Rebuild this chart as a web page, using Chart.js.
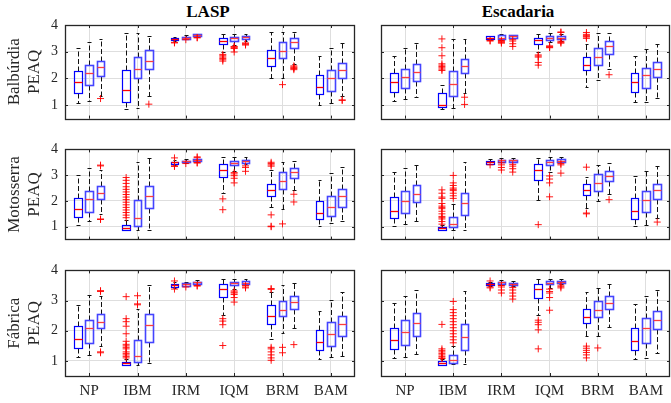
<!DOCTYPE html>
<html>
<head>
<meta charset="utf-8">
<script src="https://cdn.jsdelivr.net/npm/chart.js@4.4.1/dist/chart.umd.min.js"></script>
<style>
  html, body { margin: 0; padding: 0; background: #fff; overflow: hidden; }
  #fig { position: relative; width: 671px; height: 403px; overflow: hidden; }
  #fig canvas { position: absolute; }
  .coltitle { position: absolute; top: 2px; font: bold 17px 'Liberation Serif', serif; color: #000; transform: translateX(-50%); }
</style>
</head>
<body>
<div id="fig">
  <div class="coltitle" style="left:208px">LASP</div>
  <div class="coltitle" style="left:518px">Escadaria</div>
</div>
<script>
// categories on the x axis, rows (noise types) and columns (databases)
var categories = ['NP', 'IBM', 'IRM', 'IQM', 'BRM', 'BAM'];
var rowNames = ['Balbúrdia', 'Motosserra', 'Fábrica'];
var colNames = ['LASP', 'Escadaria'];
var yTicks = [1, 2, 3, 4];

// box stats per panel: [lower whisker, q1, median, q3, upper whisker], 3 boxes per category
var balburdiaLasp = [
  [1.08,1.47,1.87,2.28,3.15], [1.16,1.75,2.22,2.49,3.35], [1.35,2.11,2.42,2.67,3.46],
  [0.85,1.13,1.58,2.30,3.70], [0.90,2.01,2.35,2.80,3.71], [1.35,2.36,2.67,3.07,3.60],
  [3.40,3.45,3.48,3.51,3.55], [3.47,3.48,3.53,3.56,3.62], [3.55,3.57,3.62,3.65,3.67],
  [3.00,3.28,3.42,3.53,3.67], [3.26,3.42,3.51,3.56,3.67], [3.40,3.48,3.54,3.59,3.67],
  [2.03,2.45,2.75,3.08,3.72], [2.00,2.77,3.02,3.37,3.73], [2.55,3.14,3.36,3.52,3.72],
  [1.00,1.41,1.68,2.12,2.85], [1.08,1.53,2.03,2.32,3.14], [1.36,2.03,2.30,2.58,3.34]
];
var balburdiaLaspOut = [
  [], [], [1.25],
  [], [], [1.04],
  [3.33,3.35], [3.45], [3.52,3.53],
  [2.9,2.85,2.8,2.75,2.7,2.65], [3.2,3.18,3.15,3.12,2.99], [3.33,3.3,3.28,3.25],
  [], [1.77], [2.47,2.43,2.4,2.37,2.33],
  [], [], [1.2,1.18]
];
var balburdiaEsc = [
  [1.14,1.50,1.85,2.20,2.85], [1.22,1.65,2.05,2.36,3.13], [1.30,1.91,2.26,2.54,3.32],
  [0.86,0.92,1.01,1.46,1.75], [0.88,1.35,1.79,2.28,3.46], [1.47,2.21,2.47,2.74,3.48],
  [3.44,3.46,3.51,3.57,3.60], [3.45,3.47,3.52,3.61,3.65], [3.50,3.53,3.58,3.61,3.64],
  [2.99,3.28,3.45,3.51,3.67], [3.37,3.45,3.51,3.58,3.70], [3.42,3.48,3.53,3.59,3.68],
  [1.68,2.30,2.51,2.79,3.30], [1.96,2.51,2.80,3.13,3.70], [2.34,2.91,3.20,3.42,3.70],
  [1.11,1.49,1.88,2.20,2.85], [1.12,1.64,2.12,2.40,3.12], [1.27,2.04,2.35,2.63,3.29]
];
var balburdiaEscOut = [
  [], [], [],
  [3.48,3.15,2.85,2.55,2.5,2.45,2.4,2.35,2.3], [], [1.3,1.03],
  [3.42,3.40], [3.42,3.38,3.35,3.32], [3.45,3.4,3.3,3.2],
  [2.88,2.84,2.8,2.6,2.5], [3.22,3.19,3.17,3.15], [3.74,3.72,3.39,3.35,3.32],
  [3.5,3.55,3.58,3.6,3.65,3.72], [], [2.14],
  [], [], []
];
var motosserraLasp = [
  [1.06,1.38,1.68,2.12,3.01], [1.22,1.59,2.09,2.37,3.26], [1.50,2.08,2.32,2.58,3.20],
  [0.86,0.88,0.94,1.08,1.25], [0.88,1.04,1.32,2.05,3.51], [0.88,1.71,2.19,2.57,3.65],
  [3.38,3.44,3.50,3.52,3.60], [3.48,3.50,3.55,3.56,3.62], [3.52,3.55,3.60,3.62,3.64],
  [2.32,2.92,3.22,3.45,3.69], [3.18,3.38,3.48,3.56,3.70], [3.42,3.48,3.55,3.59,3.70],
  [1.78,2.19,2.42,2.64,3.20], [1.70,2.45,2.77,3.12,3.53], [2.43,2.89,3.13,3.29,3.56],
  [1.03,1.31,1.55,1.99,2.83], [1.15,1.41,1.77,2.19,3.09], [1.21,1.75,2.19,2.46,3.32]
];
var motosserraLaspOut = [
  [], [], [3.39,3.36,1.3,1.28],
  [2.91,2.8,2.68,2.55,2.45,2.35,2.25,2.15,2.05,1.95,1.85,1.75,1.65,1.55,1.45,1.35], [], [],
  [3.67,3.36,3.34], [3.45], [3.68,3.71,3.49,3.47],
  [2.08,1.66], [3.1,3.05,2.98,2.88,2.7], [3.36,3.3,3.15],
  [3.5,3.45,3.4,3.35,1.46,1.02,1.0], [1.11], [2.26,1.96],
  [], [], []
];
var motosserraEsc = [
  [1.02,1.34,1.62,2.14,3.11], [1.10,1.52,1.99,2.37,3.26], [1.21,1.97,2.26,2.61,3.40],
  [0.86,0.88,0.95,1.00,1.05], [0.88,0.97,1.10,1.39,1.89], [0.88,1.46,1.92,2.31,3.50],
  [3.43,3.45,3.52,3.56,3.63], [3.50,3.53,3.57,3.60,3.67], [3.50,3.53,3.57,3.59,3.67],
  [2.05,2.81,3.19,3.42,3.65], [3.13,3.38,3.51,3.58,3.72], [3.50,3.53,3.56,3.61,3.70],
  [1.72,2.23,2.41,2.66,2.91], [1.99,2.39,2.69,3.04,3.38], [2.26,2.76,2.97,3.17,3.48],
  [1.02,1.31,1.62,2.12,2.95], [1.08,1.58,2.05,2.39,3.16], [1.35,2.07,2.41,2.66,3.37]
];
var motosserraEscOut = [
  [], [], [],
  [2.43,2.3,2.15,2.1,1.9,1.8,1.75,1.7,1.6,1.5,1.4,1.35,1.3,1.2,1.1], [2.99,2.7,2.6,2.5,2.45,2.4,2.3,2.2,2.1], [],
  [3.40], [3.48,3.4,3.3,3.2], [3.42,3.35,3.25,3.12],
  [1.08], [2.97,2.85,2.7,2.16], [3.45,3.4,3.08],
  [3.31,1.53,1.5], [], [2.05],
  [], [], [1.18]
];
var fabricaLasp = [
  [1.13,1.44,1.72,2.16,2.86], [1.19,1.59,2.08,2.37,3.17], [1.49,2.08,2.30,2.57,3.15],
  [0.86,0.87,0.93,0.98,1.05], [0.87,0.98,1.17,1.70,2.73], [0.92,1.62,2.19,2.55,3.52],
  [3.42,3.46,3.50,3.55,3.60], [3.47,3.49,3.55,3.57,3.63], [3.52,3.54,3.60,3.63,3.68],
  [2.51,3.12,3.38,3.55,3.72], [3.40,3.51,3.57,3.63,3.73], [3.55,3.55,3.59,3.64,3.72],
  [1.72,2.24,2.49,2.84,3.27], [1.92,2.48,2.68,2.98,3.51], [2.08,2.71,2.95,3.16,3.57],
  [1.05,1.36,1.62,2.03,2.65], [1.14,1.49,1.89,2.30,3.02], [1.16,1.83,2.21,2.50,3.30]
];
var fabricaLaspOut = [
  [], [], [3.33,3.3,1.3,1.27],
  [3.13,2.4,2.3,2.15,1.9,1.65,1.55,1.5,1.45,1.4,1.3,1.25,1.2,1.15,1.1], [3.16,2.89,2.86], [],
  [3.65,3.38], [3.45], [3.50,3.48],
  [2.4,2.32,2.2,1.51], [3.32,3.28,3.25,3.2,3.1,2.95], [3.5,3.45,3.42],
  [3.4,3.37,1.45,1.4,1.3,1.2,1.1,1.02], [1.45,1.27], [1.54],
  [], [], []
];
var fabricaEsc = [
  [1.09,1.38,1.70,2.08,2.92], [1.12,1.52,1.96,2.34,3.15], [1.23,1.84,2.26,2.60,3.36],
  [0.86,0.88,0.93,1.00,1.05], [0.89,0.94,1.02,1.19,1.50], [0.89,1.37,1.78,2.24,3.31],
  [3.47,3.50,3.54,3.58,3.62], [3.53,3.56,3.60,3.62,3.67], [3.49,3.52,3.56,3.59,3.65],
  [2.51,3.10,3.38,3.55,3.72], [3.43,3.54,3.59,3.64,3.73], [3.55,3.57,3.62,3.66,3.73],
  [1.81,2.25,2.44,2.73,3.30], [1.81,2.46,2.68,2.97,3.43], [2.11,2.71,2.92,3.16,3.54],
  [1.06,1.37,1.67,2.08,2.88], [1.11,1.58,2.08,2.41,3.15], [1.25,2.05,2.34,2.66,3.36]
];
var fabricaEscOut = [
  [], [], [],
  [2.21,1.4,1.35,1.3,1.25,1.2,1.15,1.1,1.08], [2.97,2.7,2.6,2.5,2.4,2.3,2.2,2.1,2.0,1.9,1.8,1.7,1.6], [],
  [3.65,3.45,3.42], [3.5,3.45,3.35,3.25], [3.43,3.35,3.25,3.15,3.05],
  [2.35,2.28,2.2,2.03,1.4], [3.38,3.3,3.25,3.1,2.68], [3.51,3.46,3.42],
  [1.49,1.42,1.35,1.28,1.2,1.1], [1.43], [],
  [], [], []
];

var panels = [
  [balburdiaLasp, balburdiaLaspOut], [balburdiaEsc, balburdiaEscOut],
  [motosserraLasp, motosserraLaspOut], [motosserraEsc, motosserraEscOut],
  [fabricaLasp, fabricaLaspOut], [fabricaEsc, fabricaEscOut]
];

// drawing style
var offsets = [-0.235, 0, 0.235];
var halfBox = 0.08, halfCap = 0.04;
var boxColors = ['#0000ff', '#4444ff', '#4444ff'];
var boxWidths = [1.2, 1.6, 1.6];
var medColors = ['#ff0000', '#ff3c3c', '#ff3c3c'];
var axisColor = '#262626';
var gridColor = '#dedede';
var serif = "'Liberation Serif', 'Times New Roman', serif";

// geometry of the canvases (one chart per panel); padding top leaves room for the "4" label
var rowTop = [0, 134, 255], rowHeight = [134, 121, 148], rowPadTop = [25, 12, 12], rowXAxis = [1, 1, 27];
var colLeft = [0, 376], colWidth = [360, 299], colYAxis = [65, 5];

// plugin: boxes, whiskers, frame and inward ticks, all through the chart scales
var boxPlugin = {
  id: 'boxes',
  beforeDatasetsDraw: function(chart, args, opts) {
    var ctx = chart.ctx, xs = chart.scales.x, ys = chart.scales.y;
    var px = function(v) { return Math.round(xs.getPixelForValue(v)) + 0.5; };
    var py = function(v) { return Math.round(ys.getPixelForValue(v)) + 0.5; };
    ctx.save();
    opts.stats.forEach(function(s, k) {
      var cat = Math.floor(k / 3) + 1, j = k % 3;
      var c = cat + offsets[j];
      var xc = px(c), x0 = px(c - halfBox), x1 = px(c + halfBox);
      var cx0 = px(c - halfCap), cx1 = px(c + halfCap);
      var yLo = py(s[0]), yQ1 = py(s[1]), yMed = py(s[2]), yQ3 = py(s[3]), yHi = py(s[4]);
      // whiskers (dashed) and caps
      ctx.strokeStyle = '#111';
      ctx.lineWidth = 1;
      ctx.setLineDash([5, 2.5]);
      ctx.beginPath();
      ctx.moveTo(xc, yQ3); ctx.lineTo(xc, yHi);
      ctx.moveTo(xc, yQ1); ctx.lineTo(xc, yLo);
      ctx.stroke();
      ctx.setLineDash([]);
      ctx.beginPath();
      ctx.moveTo(cx0, yHi); ctx.lineTo(cx1, yHi);
      ctx.moveTo(cx0, yLo); ctx.lineTo(cx1, yLo);
      ctx.stroke();
      // box
      ctx.strokeStyle = boxColors[j];
      ctx.lineWidth = boxWidths[j];
      ctx.strokeRect(x0, yQ3, x1 - x0, yQ1 - yQ3);
      // median
      ctx.strokeStyle = medColors[j];
      ctx.lineWidth = 1.3;
      ctx.beginPath();
      ctx.moveTo(x0, yMed); ctx.lineTo(x1, yMed);
      ctx.stroke();
    });
    ctx.restore();
  },
  afterDraw: function(chart) {
    var ctx = chart.ctx, a = chart.chartArea, xs = chart.scales.x, ys = chart.scales.y;
    ctx.save();
    ctx.strokeStyle = axisColor;
    ctx.lineWidth = 1;
    ctx.beginPath();
    categories.forEach(function(c, i) {
      var x = Math.round(xs.getPixelForValue(i + 1)) + 0.5;
      ctx.moveTo(x, a.bottom); ctx.lineTo(x, a.bottom - 3);
      ctx.moveTo(x, a.top); ctx.lineTo(x, a.top + 3);
    });
    yTicks.forEach(function(v) {
      var y = Math.round(ys.getPixelForValue(v)) + 0.5;
      ctx.moveTo(a.left, y); ctx.lineTo(a.left + 3, y);
      ctx.moveTo(a.right, y); ctx.lineTo(a.right - 3, y);
    });
    ctx.stroke();
    ctx.lineWidth = 1.3;
    ctx.strokeRect(Math.round(a.left) + 0.5, Math.round(a.top) + 0.5,
                   Math.round(a.right - a.left) - 1, Math.round(a.bottom - a.top));
    ctx.restore();
  }
};

var fig = document.getElementById('fig');
panels.forEach(function(p, idx) {
  var r = Math.floor(idx / 2), c = idx % 2;
  var canvas = document.createElement('canvas');
  canvas.width = colWidth[c];
  canvas.height = rowHeight[r];
  canvas.style.left = colLeft[c] + 'px';
  canvas.style.top = rowTop[r] + 'px';
  fig.appendChild(canvas);

  // outliers as red crosses
  var points = [];
  p[1].forEach(function(list, k) {
    var x = Math.floor(k / 3) + 1 + offsets[k % 3];
    list.forEach(function(v) { points.push({ x: x, y: v }); });
  });

  new Chart(canvas.getContext('2d'), {
    type: 'scatter',
    data: {
      datasets: [{
        data: points,
        pointStyle: 'cross',
        radius: 3.5,
        borderWidth: 1,
        borderColor: 'rgba(255, 0, 0, 0.9)',
        backgroundColor: 'rgba(255, 0, 0, 0.9)'
      }]
    },
    options: {
      responsive: false,
      animation: false,
      devicePixelRatio: 1,
      events: [],
      layout: { padding: { top: rowPadTop[r], right: 1, left: 0, bottom: 0 } },
      plugins: {
        legend: { display: false },
        tooltip: { enabled: false },
        boxes: { stats: p[0] }
      },
      scales: {
        x: {
          type: 'linear',
          min: 0.5,
          max: 6.5,
          afterBuildTicks: function(s) { s.ticks = categories.map(function(n, i) { return { value: i + 1 }; }); },
          afterFit: function(s) { s.height = rowXAxis[r]; },
          grid: { color: gridColor, drawTicks: false },
          border: { display: false },
          ticks: {
            display: r === 2,
            autoSkip: false,
            maxRotation: 0,
            padding: 6,
            color: axisColor,
            font: { family: serif, size: 15 },
            callback: function(v) { return categories[v - 1]; }
          }
        },
        y: {
          min: 0.5,
          max: 4,
          afterBuildTicks: function(s) { s.ticks = yTicks.map(function(v) { return { value: v }; }); },
          afterFit: function(s) { s.width = colYAxis[c]; },
          grid: { color: gridColor, drawTicks: false },
          border: { display: false },
          ticks: {
            padding: 7,
            color: c === 0 ? axisColor : 'rgba(0,0,0,0)',
            font: { family: serif, size: 14 }
          },
          title: {
            display: c === 0,
            text: [rowNames[r], 'PEAQ'],
            color: axisColor,
            padding: { top: 4, bottom: 0 },
            font: { family: serif, size: 17, lineHeight: 1.2 }
          }
        }
      }
    },
    plugins: [boxPlugin]
  });
});
</script>
</body>
</html>
